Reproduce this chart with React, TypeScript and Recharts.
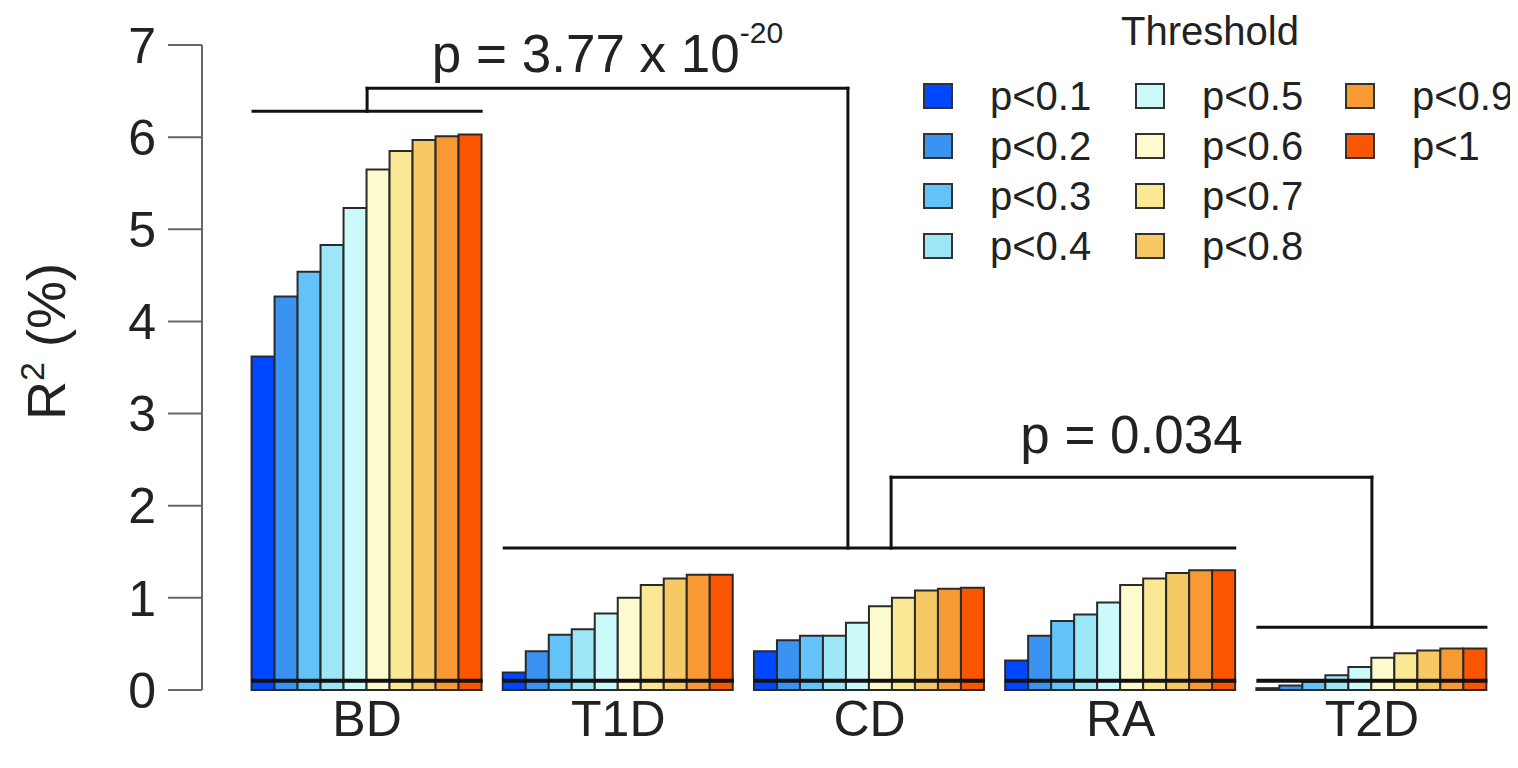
import React from 'react';
import { BarChart, Bar, XAxis, YAxis, ReferenceLine, ReferenceDot, Legend } from 'recharts';

const categories = ['BD', 'T1D', 'CD', 'RA', 'T2D'];
const thresholds = ['p<0.1', 'p<0.2', 'p<0.3', 'p<0.4', 'p<0.5', 'p<0.6', 'p<0.7', 'p<0.8', 'p<0.9', 'p<1'];
const colors = ['#0048FF', '#3A93F2', '#63C3F8', '#9CE6F5', '#CCFAFA', '#FDFBCD', '#FAE894', '#F7C965', '#F79A33', '#FA5500'];

const bdValues = [3.62, 4.27, 4.54, 4.83, 5.23, 5.65, 5.85, 5.97, 6.01, 6.03];
const t1dValues = [0.19, 0.42, 0.6, 0.66, 0.83, 1.0, 1.14, 1.21, 1.25, 1.25];
const cdValues = [0.42, 0.54, 0.59, 0.59, 0.73, 0.91, 1.0, 1.08, 1.1, 1.11];
const raValues = [0.32, 0.59, 0.75, 0.82, 0.95, 1.14, 1.21, 1.27, 1.3, 1.3];
const t2dValues = [0.02, 0.05, 0.09, 0.16, 0.25, 0.35, 0.4, 0.43, 0.45, 0.45];
const groupValues = [bdValues, t1dValues, cdValues, raValues, t2dValues];

const nullLevels = [0.1, 0.1, 0.1, 0.1, 0.1];
const yTicks = [0, 1, 2, 3, 4, 5, 6, 7];

// cluster lines: [from group pos, to group pos, level]
const clusterLines = [
  [0.04, 0.96, 6.28],
  [1.04, 3.96, 1.54],
  [4.04, 4.96, 0.68],
];
// bracket paths in (group position, R2 level)
const bracket1 = [[0.5, 6.28], [0.5, 6.53], [2.414, 6.53], [2.414, 1.54]];
const bracket2 = [[2.586, 1.54], [2.586, 2.31], [4.5, 2.31], [4.5, 0.68]];
const pLabels = [
  { x: 1.457, y: 6.71, main: 'p = 3.77 x 10', sup: '-20' },
  { x: 3.543, y: 2.57, main: 'p = 0.034', sup: '' },
];

const data = categories.map((name, gi) => {
  const row: Record<string, number | string> = { name, idx: gi + 0.5 };
  thresholds.forEach((t, ti) => {
    row[t] = groupValues[gi][ti];
  });
  return row;
});

const FONT = '"Liberation Sans", Arimo, Arial, Helvetica, sans-serif';
const PAD = { left: 39.5, right: 2.5 };

const segs = (pts: number[][]) => pts.slice(1).map((p, i) => [pts[i], p]);

const YLabel = (props: any) => {
  const vb = props.viewBox || { x: 0, y: 0, width: 0, height: 0 };
  const x = vb.x + 47;
  const y = vb.y + vb.height / 2 - 26;
  return (
    <text
      x={x}
      y={y}
      transform={`rotate(-90, ${x}, ${y})`}
      textAnchor="middle"
      fontFamily={FONT}
      fontSize={54}
      fill="#222"
    >
      R<tspan dy={-21} fontSize={34}>2</tspan>
      <tspan dy={21} fontSize={54}> (%)</tspan>
    </text>
  );
};

const makePLabel = (main: string, sup: string) => (props: any) => {
  const vb = props.viewBox || { x: 0, y: 0, width: 0, height: 0 };
  const cx = vb.x + vb.width / 2;
  const cy = vb.y + vb.height / 2;
  return (
    <text x={cx} y={cy} textAnchor="middle" fontFamily={FONT} fontSize={53} fill="#222">
      {main}
      {sup ? (
        <tspan dy={-29} fontSize={30}>
          {sup}
        </tspan>
      ) : null}
    </text>
  );
};

const LegendContent = (props: any) => {
  const payload = props.payload || [];
  const colX = [23, 235, 445];
  const rowY = [88, 138, 188, 238];
  return (
    <div style={{ position: 'relative', width: 618, height: 270, fontFamily: FONT, color: '#222' }}>
      <div
        style={{
          position: 'absolute',
          left: 160,
          width: 300,
          top: 0,
          textAlign: 'center',
          fontSize: 40,
          lineHeight: '46px',
        }}
      >
        Threshold
      </div>
      {payload.map((e: any, i: number) => {
        const col = Math.floor(i / 4);
        const row = i % 4;
        return (
          <div key={i}>
            <div
              style={{
                position: 'absolute',
                left: colX[col],
                top: rowY[row] - 13,
                width: 30,
                height: 26,
                boxSizing: 'border-box',
                border: '2px solid #333',
                background: e.color,
              }}
            />
            <div
              style={{
                position: 'absolute',
                left: colX[col] + 67,
                top: rowY[row] - 24,
                fontSize: 40,
                lineHeight: '48px',
                whiteSpace: 'nowrap',
              }}
            >
              {e.value}
            </div>
          </div>
        );
      })}
    </div>
  );
};

export default function App() {
  return (
    <BarChart
      width={1500}
      height={750}
      data={data}
      margin={{ top: 37, right: 8, bottom: 8, left: 10 }}
      barCategoryGap="4%"
      barGap={0}
    >
      <XAxis
        xAxisId="cat"
        dataKey="name"
        padding={PAD}
        axisLine={false}
        tickLine={false}
        tickSize={0}
        tickMargin={10}
        height={60}
        interval={0}
        tick={{ fontFamily: FONT, fontSize: 50, fill: '#222' }}
      />
      <XAxis
        xAxisId="pos"
        dataKey="idx"
        type="number"
        domain={[0, 5]}
        allowDataOverflow
        hide
        padding={PAD}
      />
      <YAxis
        domain={[0, 7]}
        ticks={yTicks}
        interval={0}
        width={184}
        tickSize={34}
        tickMargin={12}
        stroke="#666"
        strokeWidth={2}
        tick={{ fontFamily: FONT, fontSize: 50, fill: '#222' }}
        label={{ content: YLabel }}
      />
      <Legend
        layout="horizontal"
        verticalAlign="middle"
        align="center"
        content={LegendContent}
        wrapperStyle={{ position: 'absolute', left: 892, top: 0, width: 618, height: 270 }}
      />
      {thresholds.map((t, i) => (
        <Bar
          key={t}
          xAxisId="cat"
          dataKey={t}
          name={t}
          fill={colors[i]}
          stroke="#2a2a2a"
          strokeWidth={2}
          isAnimationActive={false}
        />
      ))}
      {nullLevels.map((lv, gi) => (
        <ReferenceLine
          key={`null-${gi}`}
          xAxisId="pos"
          segment={[{ x: gi + 0.04, y: lv }, { x: gi + 0.96, y: lv }]}
          stroke="#111"
          strokeWidth={4}
          ifOverflow="visible"
        />
      ))}
      {clusterLines.map(([a, b, lv], i) => (
        <ReferenceLine
          key={`cl-${i}`}
          xAxisId="pos"
          segment={[{ x: a, y: lv }, { x: b, y: lv }]}
          stroke="#111"
          strokeWidth={3}
          ifOverflow="visible"
        />
      ))}
      {[...segs(bracket1), ...segs(bracket2)].map(([p, q], i) => (
        <ReferenceLine
          key={`br-${i}`}
          xAxisId="pos"
          segment={[{ x: p[0], y: p[1] }, { x: q[0], y: q[1] }]}
          stroke="#111"
          strokeWidth={3}
          strokeLinecap="square"
          ifOverflow="visible"
        />
      ))}
      {pLabels.map((pl, i) => (
        <ReferenceDot
          key={`pl-${i}`}
          xAxisId="pos"
          x={pl.x}
          y={pl.y}
          r={0}
          fill="none"
          stroke="none"
          ifOverflow="visible"
          label={{ content: makePLabel(pl.main, pl.sup) }}
        />
      ))}
    </BarChart>
  );
}
